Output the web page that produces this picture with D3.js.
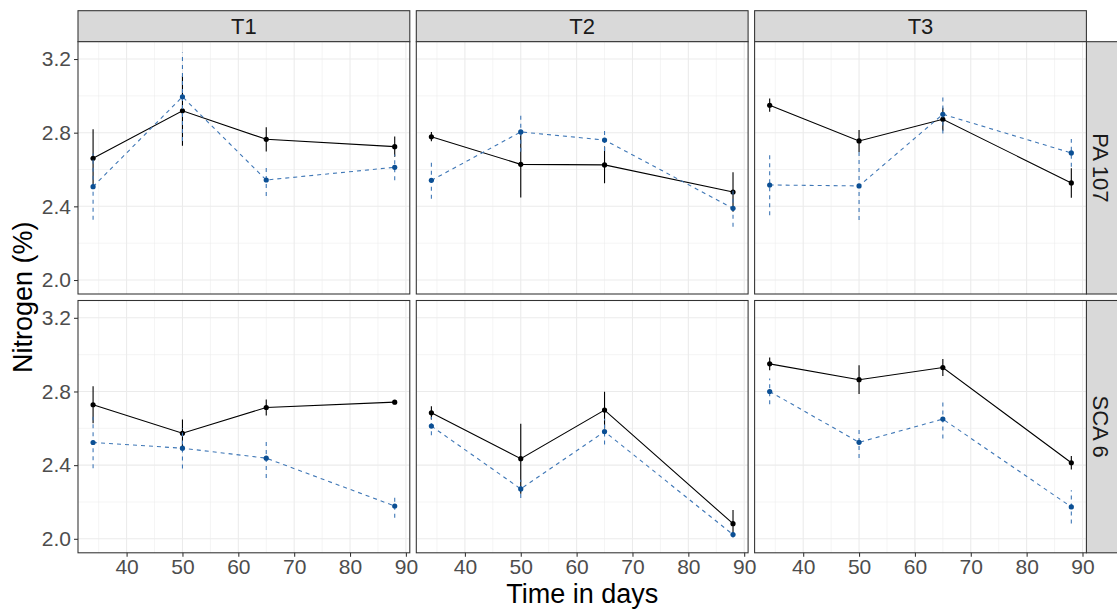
<!DOCTYPE html>
<html>
<head>
<meta charset="utf-8">
<script src="https://cdn.jsdelivr.net/npm/d3@7"></script>
<style>
  html, body { margin: 0; padding: 0; background: #fff; }
  svg { display: block; font-family: "Liberation Sans", Arial, sans-serif; }
</style>
</head>
<body>
<svg id="chart" width="1117" height="613"></svg>
<script>
// ---------------- data ----------------
const days = [34, 50, 65, 88];
const treatments = ["T1", "T2", "T3"];
const genotypes = ["PA 107", "SCA 6"];
const xTicks = [40, 50, 60, 70, 80, 90];
const yTicks = [2.0, 2.4, 2.8, 3.2];
const yTickLabels = ["2.0", "2.4", "2.8", "3.2"];

// solid black series: mean per treatment (T1, T2, T3) and error half-width
const pa107Black    = [[2.661, 2.919, 2.764, 2.724], [2.778, 2.628, 2.625, 2.478], [2.949, 2.755, 2.873, 2.527]];
const pa107BlackErr = [[0.157, 0.190, 0.066, 0.055], [0.025, 0.180, 0.100, 0.107], [0.036, 0.060, 0.063, 0.080]];
const sca6Black     = [[2.728, 2.573, 2.713, 2.742], [2.684, 2.435, 2.699, 2.082], [2.950, 2.864, 2.930, 2.413]];
const sca6BlackErr  = [[0.100, 0.075, 0.043, 0.012], [0.036, 0.190, 0.100, 0.074], [0.035, 0.078, 0.046, 0.037]];

// dashed blue series
const pa107Blue     = [[2.507, 2.995, 2.543, 2.612], [2.541, 2.804, 2.760, 2.389], [2.516, 2.511, 2.900, 2.690]];
const pa107BlueErr  = [[0.180, 0.240, 0.087, 0.070], [0.100, 0.107, 0.060, 0.100], [0.165, 0.185, 0.105, 0.075]];
const sca6Blue      = [[2.523, 2.492, 2.438, 2.178], [2.612, 2.271, 2.582, 2.023], [2.800, 2.524, 2.650, 2.173]];
const sca6BlueErr   = [[0.140, 0.110, 0.108, 0.064], [0.050, 0.050, 0.070, 0.015], [0.070, 0.085, 0.105, 0.090]];

const blackByRow = [pa107Black, sca6Black];
const blackErrByRow = [pa107BlackErr, sca6BlackErr];
const blueByRow = [pa107Blue, sca6Blue];
const blueErrByRow = [pa107BlueErr, sca6BlueErr];

// ---------------- layout ----------------
const left = 78, panelW = 331.8, gapX = 6.5;
const stripTop = 10.7, stripH = 31, panelH = 252.3, gapY = 6.5;
const rightStripW = 32;
const xDomain = [31.3, 90.7];
const yDomain = [1.924, 3.294];

const svg = d3.select("#chart");
const gridCol = "#EBEBEB";
const borderCol = "#333333";
const tickTextCol = "#4D4D4D";
const blackCol = "#000000";
const bluePoint = "#0B4F94";
const blueLine = "#3F77B6";
const tickFont = 21, stripFont = 22, titleFont = 27;

const minorX = [35, 45, 55, 65, 75, 85];
const minorY = [2.2, 2.6, 3.0];

const panelTop = r => stripTop + stripH + r * (panelH + gapY);
const panelLeft = c => left + c * (panelW + gapX);

// Top strips
treatments.forEach((t, c) => {
  const x0 = panelLeft(c);
  svg.append("rect").attr("x", x0).attr("y", stripTop).attr("width", panelW).attr("height", stripH)
    .attr("fill", "#D9D9D9").attr("stroke", borderCol).attr("stroke-width", 1.07);
  svg.append("text").attr("x", x0 + panelW / 2).attr("y", stripTop + stripH / 2)
    .attr("dy", "0.36em").attr("text-anchor", "middle").attr("font-size", stripFont).attr("fill", "#1A1A1A").text(t);
});

// Right strips
genotypes.forEach((g, r) => {
  const y0 = panelTop(r);
  const x0 = panelLeft(2) + panelW;
  svg.append("rect").attr("x", x0).attr("y", y0).attr("width", rightStripW).attr("height", panelH)
    .attr("fill", "#D9D9D9").attr("stroke", borderCol).attr("stroke-width", 1.07);
  svg.append("text")
    .attr("transform", `translate(${x0 + rightStripW / 2 - 1},${y0 + panelH / 2}) rotate(90)`)
    .attr("dy", "0.36em").attr("text-anchor", "middle").attr("font-size", stripFont).attr("fill", "#1A1A1A").text(g);
});

genotypes.forEach((g, r) => {
  treatments.forEach((t, c) => {
    const x0 = panelLeft(c), y0 = panelTop(r);
    const x = d3.scaleLinear().domain(xDomain).range([x0, x0 + panelW]);
    const y = d3.scaleLinear().domain(yDomain).range([y0 + panelH, y0]);
    const clipId = `clip-${r}-${c}`;
    svg.append("clipPath").attr("id", clipId).append("rect")
      .attr("x", x0).attr("y", y0).attr("width", panelW).attr("height", panelH);

    const p = svg.append("g");
    p.append("rect").attr("x", x0).attr("y", y0).attr("width", panelW).attr("height", panelH).attr("fill", "#fff");

    // minor grid
    p.selectAll(".mx").data(minorX).join("line")
      .attr("x1", d => x(d)).attr("x2", d => x(d)).attr("y1", y0).attr("y2", y0 + panelH)
      .attr("stroke", gridCol).attr("stroke-width", 0.55);
    p.selectAll(".my").data(minorY).join("line")
      .attr("y1", d => y(d)).attr("y2", d => y(d)).attr("x1", x0).attr("x2", x0 + panelW)
      .attr("stroke", gridCol).attr("stroke-width", 0.55);
    // major grid
    p.selectAll(".gx").data(xTicks).join("line")
      .attr("x1", d => x(d)).attr("x2", d => x(d)).attr("y1", y0).attr("y2", y0 + panelH)
      .attr("stroke", gridCol).attr("stroke-width", 1.07);
    p.selectAll(".gy").data(yTicks).join("line")
      .attr("y1", d => y(d)).attr("y2", d => y(d)).attr("x1", x0).attr("x2", x0 + panelW)
      .attr("stroke", gridCol).attr("stroke-width", 1.07);

    const plot = p.append("g").attr("clip-path", `url(#${clipId})`);

    const series = [
      { vals: blackByRow[r][c], errs: blackErrByRow[r][c], line: blackCol, point: blackCol, dash: null },
      { vals: blueByRow[r][c], errs: blueErrByRow[r][c], line: blueLine, point: bluePoint, dash: "4,4" }
    ];
    series.forEach(s => {
      const pts = days.map((d, i) => ({ x: d, v: s.vals[i], e: s.errs[i] }));
      // error bars
      plot.selectAll(null).data(pts).join("line")
        .attr("x1", d => x(d.x)).attr("x2", d => x(d.x))
        .attr("y1", d => y(d.v - d.e)).attr("y2", d => y(d.v + d.e))
        .attr("stroke", s.line).attr("stroke-width", 1.1)
        .attr("stroke-dasharray", s.dash);
      // line
      plot.append("path").datum(pts)
        .attr("d", d3.line().x(d => x(d.x)).y(d => y(d.v)))
        .attr("fill", "none").attr("stroke", s.line).attr("stroke-width", 1.1)
        .attr("stroke-dasharray", s.dash);
      // points
      plot.selectAll(null).data(pts).join("circle")
        .attr("cx", d => x(d.x)).attr("cy", d => y(d.v)).attr("r", 2.6)
        .attr("fill", s.point);
    });

    // border
    p.append("rect").attr("x", x0).attr("y", y0).attr("width", panelW).attr("height", panelH)
      .attr("fill", "none").attr("stroke", borderCol).attr("stroke-width", 1.07);

    // y axis on left column
    if (c === 0) {
      const ax = d3.axisLeft(y).tickValues(yTicks).tickFormat((d, i) => yTickLabels[i]).tickSizeOuter(0).tickSize(4).tickPadding(3);
      const ga = svg.append("g").attr("transform", `translate(${x0},0)`).call(ax);
      ga.select(".domain").remove();
      ga.selectAll(".tick line").attr("stroke", borderCol).attr("stroke-width", 1.07);
      ga.selectAll(".tick text").attr("fill", tickTextCol).attr("font-size", tickFont)
        .attr("font-family", "Liberation Sans, Arial, sans-serif");
    }
    // x axis on bottom row
    if (r === genotypes.length - 1) {
      const ax = d3.axisBottom(x).tickValues(xTicks).tickFormat(d3.format("d")).tickSizeOuter(0).tickSize(4).tickPadding(2);
      const ga = svg.append("g").attr("transform", `translate(0,${y0 + panelH})`).call(ax);
      ga.select(".domain").remove();
      ga.selectAll(".tick line").attr("stroke", borderCol).attr("stroke-width", 1.07);
      ga.selectAll(".tick text").attr("fill", tickTextCol).attr("font-size", tickFont)
        .attr("font-family", "Liberation Sans, Arial, sans-serif");
    }
  });
});

// axis titles
const plotLeft = left, plotRight = panelLeft(2) + panelW;
svg.append("text").attr("x", (plotLeft + plotRight) / 2).attr("y", 603)
  .attr("text-anchor", "middle").attr("font-size", titleFont).attr("fill", "#000").text("Time in days");
const midY = (panelTop(0) + panelTop(1) + panelH) / 2;
svg.append("text").attr("transform", `translate(32,${midY}) rotate(-90)`)
  .attr("text-anchor", "middle").attr("font-size", titleFont).attr("fill", "#000").text("Nitrogen (%)");
</script>
</body>
</html>
